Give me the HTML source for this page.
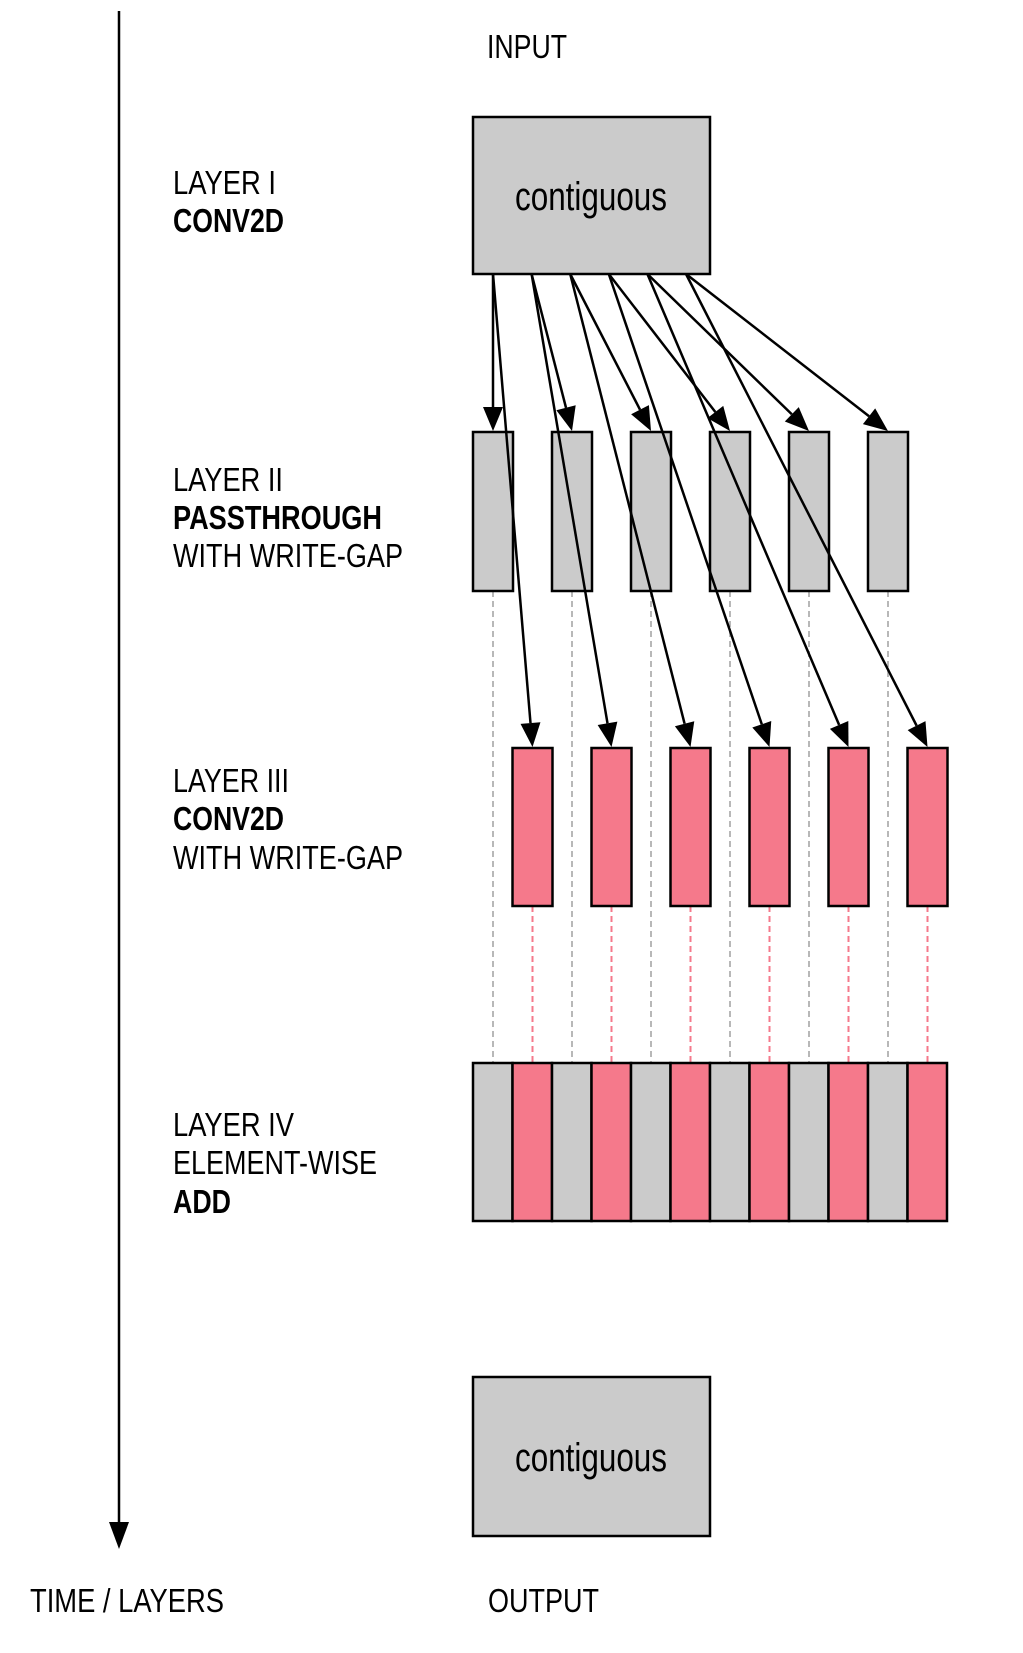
<!DOCTYPE html>
<html><head><meta charset="utf-8"><title>Write-gap diagram</title>
<style>
html,body{margin:0;padding:0;background:#fff;}
svg{display:block;font-family:"Liberation Sans",Arial,sans-serif;}
</style></head>
<body>
<svg id="chart" width="1023" height="1653" viewBox="0 0 1023 1653" xmlns="http://www.w3.org/2000/svg">
<defs>
<marker id="ah" markerWidth="10" markerHeight="10" refX="9" refY="5" orient="auto" markerUnits="userSpaceOnUse" viewBox="0 0 10 10">
</marker>
</defs>
<g id="time-axis">
<line x1="119" y1="11" x2="119" y2="1525" stroke="#000" stroke-width="2.5"/>
<polygon points="109,1522 129,1522 119,1549" fill="#000"/>
</g>
<g font-size="33" fill="#000">
<text x="487" y="58" textLength="80" lengthAdjust="spacingAndGlyphs">INPUT</text>
<text x="173" y="194" textLength="103" lengthAdjust="spacingAndGlyphs">LAYER I</text>
<text x="173" y="232" font-weight="bold" textLength="111" lengthAdjust="spacingAndGlyphs">CONV2D</text>
<text x="173" y="491" textLength="110" lengthAdjust="spacingAndGlyphs">LAYER II</text>
<text x="173" y="529" font-weight="bold" textLength="209" lengthAdjust="spacingAndGlyphs">PASSTHROUGH</text>
<text x="173" y="567" textLength="230" lengthAdjust="spacingAndGlyphs">WITH WRITE-GAP</text>
<text x="173" y="792" textLength="116" lengthAdjust="spacingAndGlyphs">LAYER III</text>
<text x="173" y="830" font-weight="bold" textLength="111" lengthAdjust="spacingAndGlyphs">CONV2D</text>
<text x="173" y="869" textLength="230" lengthAdjust="spacingAndGlyphs">WITH WRITE-GAP</text>
<text x="173" y="1136" textLength="121" lengthAdjust="spacingAndGlyphs">LAYER IV</text>
<text x="173" y="1174" textLength="204" lengthAdjust="spacingAndGlyphs">ELEMENT-WISE</text>
<text x="173" y="1213" font-weight="bold" textLength="58" lengthAdjust="spacingAndGlyphs">ADD</text>
<text x="30" y="1612" textLength="194" lengthAdjust="spacingAndGlyphs">TIME / LAYERS</text>
<text x="488" y="1612" textLength="111" lengthAdjust="spacingAndGlyphs">OUTPUT</text>
</g>
<g id="dashes"></g>
<g id="boxes">
<rect x="473" y="117" width="237" height="157" fill="#cbcbcb" stroke="#000" stroke-width="2.5"/>
<text x="515" y="210" font-size="40" textLength="152" lengthAdjust="spacingAndGlyphs">contiguous</text>
<rect x="473" y="1377" width="237" height="159" fill="#cbcbcb" stroke="#000" stroke-width="2.5"/>
<text x="515" y="1471" font-size="40" textLength="152" lengthAdjust="spacingAndGlyphs">contiguous</text>
</g>
<g id="layers"></g>
<g id="arrows"></g>
</svg>
<script>
// data
const chunkIds = [1, 2, 3, 4, 5, 6];
const layer4Kinds = ["pass", "conv", "pass", "conv", "pass", "conv", "pass", "conv", "pass", "conv", "pass", "conv"];
const sourceOffsets = [0, 1, 2, 3, 4, 5];

const NS = "http://www.w3.org/2000/svg";
const GREY = "#cbcbcb", PINK = "#f5798b";
const pitch = 79, cellW = 39.5;
const xPass = i => 473 + pitch * i;
const xConv = i => 512.5 + pitch * i;
const xCell = k => 473 + cellW * k;
const xSrc = s => 493 + 38.6 * s;
const Y2 = [432, 591], Y3 = [748, 906], Y4 = [1063, 1221], SRC_Y = 274;

function mk(tag, attrs, parent) {
  const el = document.createElementNS(NS, tag);
  for (const k in attrs) el.setAttribute(k, attrs[k]);
  parent.appendChild(el);
  return el;
}
const layers = document.getElementById("layers");
const dashes = document.getElementById("dashes");
const arrows = document.getElementById("arrows");

// dashed guide lines
chunkIds.forEach((id, i) => {
  const g = mk("line", {x1: xPass(i) + 20, y1: Y2[1], x2: xPass(i) + 20, y2: Y4[0], stroke: "#b8b8b8", "stroke-width": 2, "stroke-dasharray": "6 4"}, dashes);
  
  
  const p = mk("line", {x1: xConv(i) + 20, y1: Y3[1], x2: xConv(i) + 20, y2: Y4[0], stroke: "#f5798b", "stroke-width": 2, "stroke-dasharray": "6 4"}, dashes);
  
  
});

// layer II and III chunks
chunkIds.forEach((id, i) => {
  const r2 = mk("rect", {x: xPass(i), y: Y2[0], width: 40, height: Y2[1] - Y2[0], fill: GREY, stroke: "#000", "stroke-width": 2.5}, layers);
  
  
  const r3 = mk("rect", {x: xConv(i), y: Y3[0], width: 40, height: Y3[1] - Y3[0], fill: PINK, stroke: "#000", "stroke-width": 2.5}, layers);
  
  
});

// layer IV cells
layer4Kinds.forEach((kind, k) => {
  const c = mk("rect", {x: xCell(k), y: Y4[0], width: cellW, height: Y4[1] - Y4[0], fill: kind === "pass" ? GREY : PINK, stroke: "#000", "stroke-width": 2.5}, layers);
  
  
});

// arrows
function arrow(x1, y1, x2, y2, name) {
  const dx = x2 - x1, dy = y2 - y1, L = Math.hypot(dx, dy);
  const ux = dx / L, uy = dy / L, hl = 24, hw = 10;
  const bx = x2 - ux * hl, by = y2 - uy * hl;
  const g = mk("g", {}, arrows);
  
  
  mk("line", {x1: x1, y1: y1, x2: bx, y2: by, stroke: "#000", "stroke-width": 2.5}, g);
  mk("polygon", {points: `${x2},${y2} ${bx - uy * hw},${by + ux * hw} ${bx + uy * hw},${by - ux * hw}`, fill: "#000"}, g);
}
chunkIds.forEach((id, i) => {
  const sx = xSrc(sourceOffsets[i]);
  arrow(sx, SRC_Y, xPass(i) + 20, Y2[0] - 1, 'arrow-to-passthrough-' + id);
  arrow(sx, SRC_Y, xConv(i) + 20, Y3[0] - 1, 'arrow-to-conv-' + id);
});
</script>
</body></html>
